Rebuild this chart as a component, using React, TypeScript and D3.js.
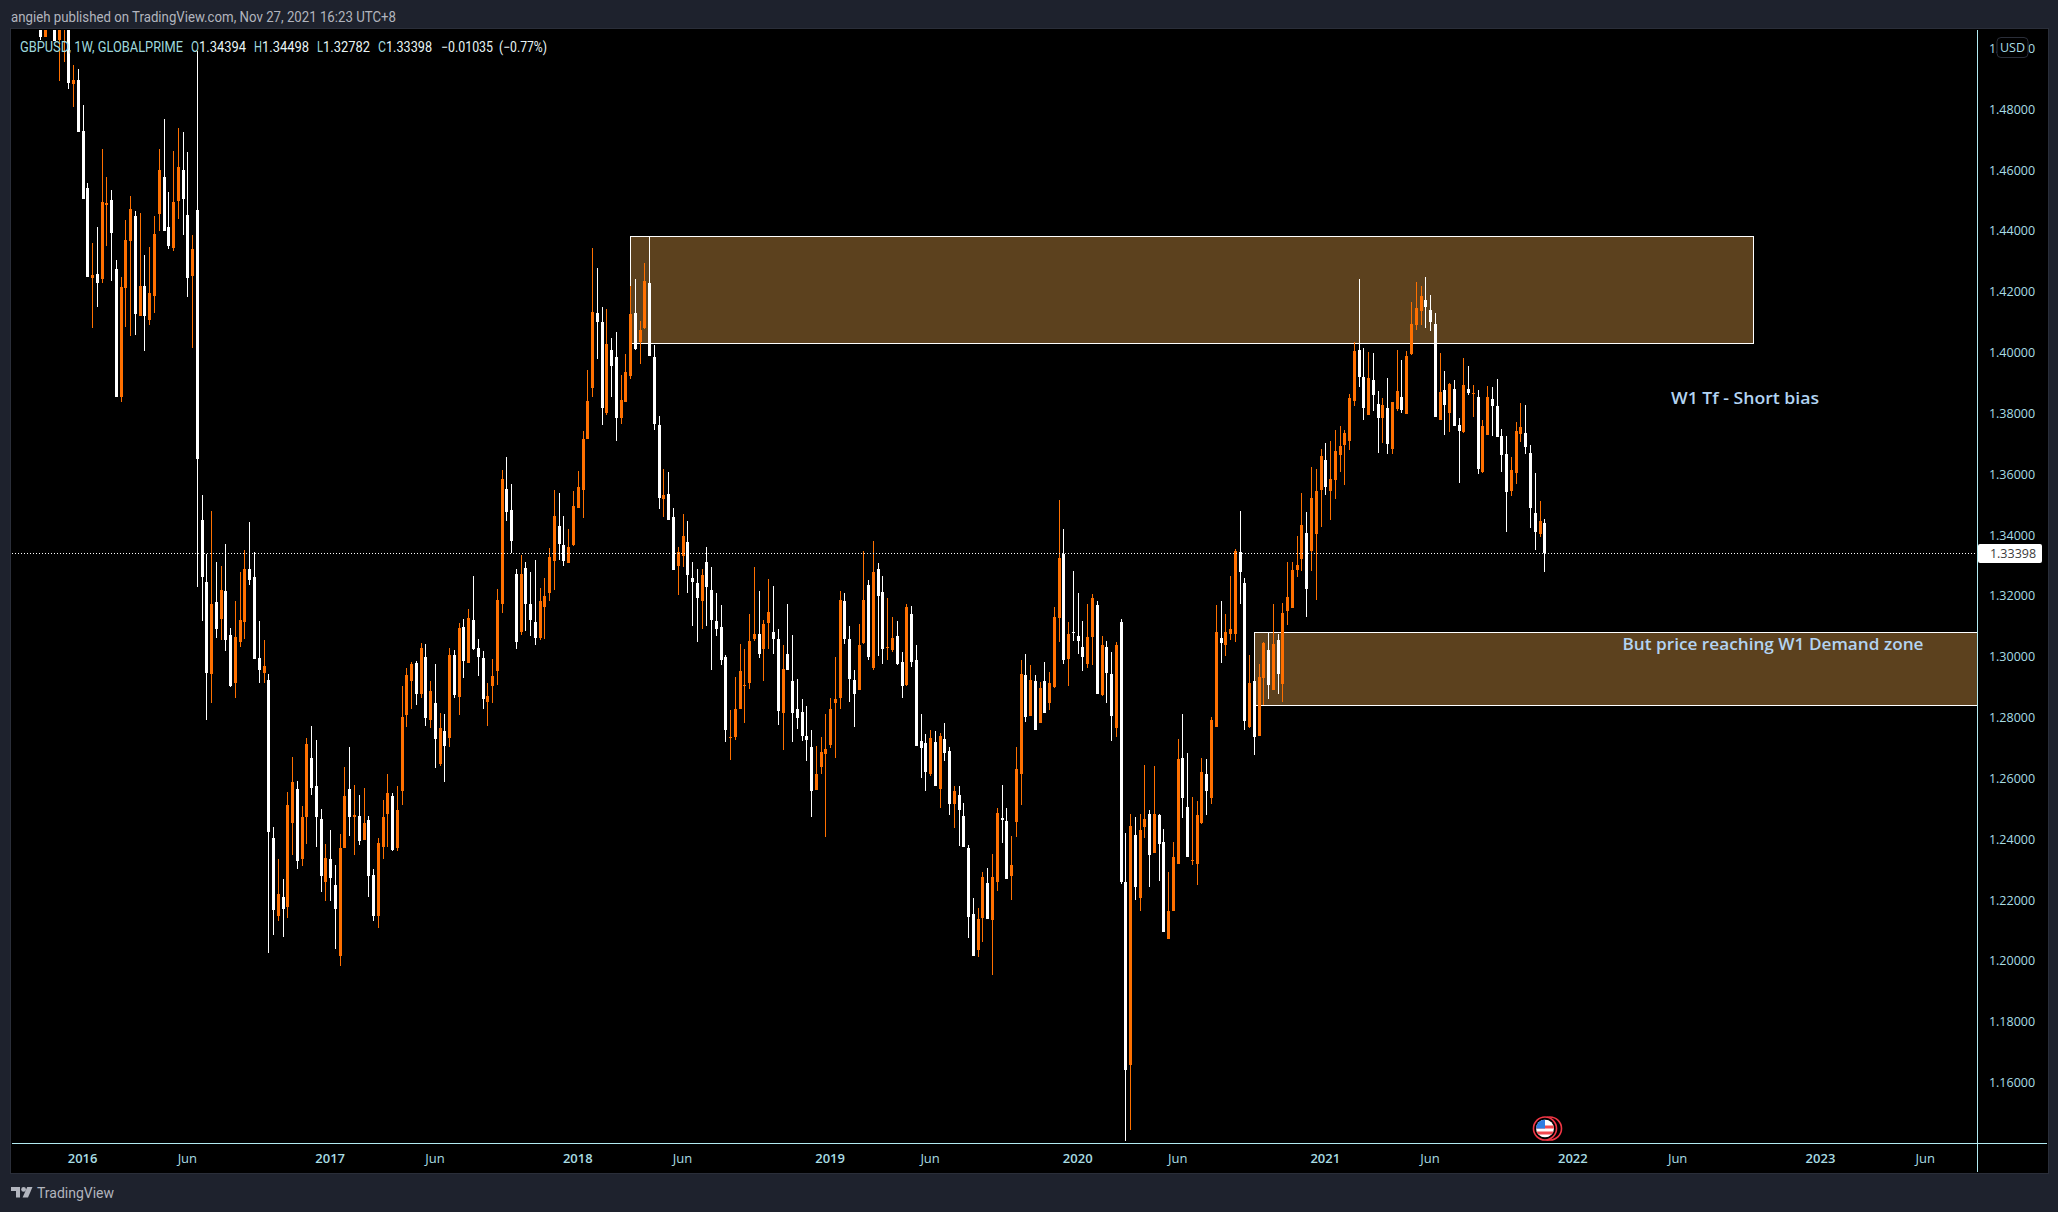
import * as React from 'react';
import * as d3 from 'd3';

const opens = [
  1.5100,1.5037,1.5150,1.5110,1.5026,1.5070,1.5090,1.4882,1.4895,1.4728,
  1.4540,1.4244,1.4258,1.4239,1.4482,1.4501,1.4274,1.3851,1.4209,1.4364,
  1.4448,1.4117,1.4218,1.4104,1.4183,1.4453,1.4576,1.4412,1.4341,1.4495,
  1.4599,1.4452,1.4249,1.4468,1.3449,1.3245,1.2943,1.3179,1.3123,1.3215,
  1.3071,1.2913,1.3048,1.3113,1.3288,1.3261,1.2995,1.2946,1.2923,1.2404,
  1.2147,1.2210,1.2174,1.2453,1.2562,1.2335,1.2470,1.2666,1.2574,1.2466,
  1.2259,1.2332,1.2249,1.2013,1.2368,1.2565,1.2470,1.2476,1.2397,1.2460,
  1.2282,1.2147,1.2374,1.2483,1.2542,1.2371,1.2558,1.2808,1.2920,1.2979,
  1.2877,1.2998,1.2791,1.2847,1.2646,1.2755,1.2732,1.3005,1.2867,1.3097,
  1.2979,1.3120,1.3028,1.2995,1.2851,1.2903,1.2952,1.3173,1.3551,1.3482,
  1.3271,1.3081,1.3291,1.3173,1.3113,1.3061,1.3163,1.3209,1.3314,1.3429,
  1.3367,1.3307,1.3366,1.3488,1.3547,1.3715,1.3883,1.4130,1.4100,1.3801,
  1.4008,1.3985,1.3784,1.3837,1.3922,1.4130,1.4034,1.4080,1.4228,1.3985,
  1.3761,1.3518,1.3534,1.3459,1.3298,1.3328,1.3377,1.3258,1.3241,1.3180,
  1.3310,1.3219,1.3117,1.3097,1.2998,1.2732,1.2735,1.2827,1.2903,1.2913,
  1.3058,1.3074,1.3025,1.3110,1.3080,1.3058,1.2815,1.3008,1.2919,1.2827,
  1.2817,1.2739,1.2703,1.2561,1.2636,1.2679,1.2708,1.2847,1.2864,1.3180,
  1.3058,1.2923,1.2890,1.3044,1.3235,1.2962,1.3288,1.3212,1.3027,1.3019,
  1.3068,1.2982,1.2907,1.3139,1.2988,1.2722,1.2715,1.2613,1.2719,1.2564,
  1.2729,1.2689,1.2515,1.2544,1.2475,1.2371,1.2151,1.2033,1.2140,1.2255,
  1.2134,1.2259,1.2469,1.2459,1.2279,1.2456,1.2613,1.2939,1.2805,1.2919,
  1.2782,1.2919,1.2847,1.2900,1.3127,1.3336,1.2992,1.3080,1.3068,1.3029,
  1.2976,1.3064,1.3169,1.2873,1.3029,1.2943,1.2764,1.3113,1.2259,1.1657,
  1.2413,1.2206,1.2440,1.2482,1.2354,1.2479,1.2390,1.2072,1.2162,1.2318,
  1.2666,1.2505,1.2327,1.2318,1.2451,1.2613,1.2534,1.2769,1.3061,1.3038,
  1.3074,1.3074,1.3344,1.3241,1.2768,1.2919,1.2739,1.2929,1.3021,1.2890,
  1.3054,1.2909,1.3150,1.3160,1.3285,1.3321,1.3406,1.3347,1.3403,1.3548,
  1.3646,1.3544,1.3580,1.3663,1.3696,1.3709,1.3840,1.4008,1.3919,1.3794,
  1.3909,1.3830,1.3784,1.3817,1.3682,1.3814,1.3853,1.3797,1.3994,1.4090,
  1.4136,1.4172,1.4139,1.4093,1.3775,1.3876,1.3801,1.3880,1.3761,1.3737,
  1.3880,1.3863,1.3853,1.3607,1.3728,1.3847,1.3824,1.3725,1.3666,1.3544,
  1.3603,1.3732,1.3735,1.3669,1.3472,1.3403,1.34394,
];

const closes = [
  1.5037,1.5120,1.5110,1.5021,1.5090,1.5120,1.4883,1.4895,1.4722,1.4502,
  1.4246,1.4254,1.4228,1.4494,1.4491,1.4390,1.3851,1.4215,1.4369,1.4471,
  1.4124,1.4218,1.4117,1.4195,1.4389,1.4599,1.4397,1.4350,1.4494,1.4609,
  1.4502,1.4242,1.4340,1.3650,1.3259,1.2946,1.3173,1.3090,1.3219,1.3054,
  1.2903,1.3064,1.3120,1.3288,1.3252,1.2992,1.2956,1.2969,1.2423,1.2167,
  1.2220,1.2170,1.2512,1.2585,1.2328,1.2470,1.2712,1.2568,1.2470,1.2279,
  1.2338,1.2272,1.2170,1.2368,1.2542,1.2473,1.2479,1.2394,1.2453,1.2279,
  1.2147,1.2387,1.2470,1.2549,1.2364,1.2496,1.2801,1.2939,1.2975,1.2877,
  1.3028,1.2798,1.2887,1.2729,1.2765,1.2706,1.3005,1.2874,1.3094,1.2985,
  1.3127,1.3025,1.2998,1.2860,1.2870,1.2936,1.3186,1.3584,1.3475,1.3380,
  1.3048,1.3271,1.3173,1.3120,1.3061,1.3183,1.3199,1.3327,1.3462,1.3370,
  1.3314,1.3360,1.3495,1.3557,1.3715,1.3840,1.4133,1.4100,1.3817,1.4028,
  1.3955,1.3784,1.3844,1.3936,1.4126,1.4011,1.4074,1.4235,1.3988,1.3765,
  1.3521,1.3531,1.3449,1.3285,1.3343,1.3396,1.3268,1.3245,1.3192,1.3268,
  1.3229,1.3120,1.3088,1.2986,1.2758,1.2735,1.2827,1.2952,1.2907,1.3051,
  1.3074,1.3008,1.3107,1.3147,1.3058,1.2821,1.2959,1.2956,1.2815,1.2798,
  1.2738,1.2725,1.2558,1.2613,1.2686,1.2696,1.2827,1.2859,1.3186,1.3058,
  1.2925,1.2876,1.3037,1.3186,1.2998,1.3278,1.3198,1.3025,1.3030,1.3061,
  1.2976,1.2903,1.3163,1.2982,1.2705,1.2699,1.2620,1.2732,1.2574,1.2738,
  1.2683,1.2515,1.2558,1.2493,1.2373,1.2144,1.2016,1.2137,1.2275,1.2137,
  1.2275,1.2485,1.2462,1.2269,1.2314,1.2630,1.2943,1.2801,1.2923,1.2756,
  1.2897,1.2815,1.2913,1.3130,1.3324,1.2988,1.3074,1.3075,1.3051,1.2998,
  1.3064,1.3192,1.2876,1.3037,1.2946,1.2805,1.3037,1.2259,1.1640,1.2443,
  1.2242,1.2429,1.2466,1.2345,1.2482,1.2383,1.2094,1.2161,1.2341,1.2663,
  1.2534,1.2341,1.2331,1.2479,1.2620,1.2558,1.2792,1.3081,1.3045,1.3081,
  1.3088,1.3345,1.3276,1.2787,1.2913,1.2736,1.2933,1.3045,1.2906,1.3041,
  1.2940,1.3143,1.3196,1.3284,1.3301,1.3433,1.3221,1.3521,1.3544,1.3659,
  1.3557,1.3584,1.3676,1.3692,1.3735,1.3850,1.4005,1.3919,1.3817,1.3916,
  1.3860,1.3784,1.3827,1.3699,1.3837,1.3873,1.3811,1.3988,1.4093,1.4146,
  1.4185,1.4149,1.4100,1.3788,1.3870,1.3827,1.3896,1.3758,1.3742,1.3893,
  1.3867,1.3867,1.3617,1.3758,1.3853,1.3824,1.3722,1.3663,1.3541,1.3613,
  1.3742,1.3755,1.3689,1.3488,1.3410,1.3443,1.33398,
];

const highs = [
  1.5120,1.5150,1.5170,1.5130,1.5100,1.5140,1.5110,1.4945,1.4930,1.4813,
  1.4557,1.4359,1.4412,1.4668,1.4576,1.4534,1.4304,1.4248,1.4435,1.4514,
  1.4465,1.4458,1.4320,1.4346,1.4448,1.4668,1.4767,1.4527,1.4662,1.4738,
  1.4724,1.4659,1.4386,1.4991,1.3531,1.3336,1.3478,1.3311,1.3298,1.3370,
  1.3094,1.3183,1.3278,1.3350,1.3442,1.3344,1.3117,1.3054,1.2943,1.2440,
  1.2332,1.2269,1.2555,1.2670,1.2591,1.2509,1.2732,1.2772,1.2726,1.2499,
  1.2384,1.2430,1.2315,1.2414,1.2637,1.2703,1.2578,1.2545,1.2568,1.2476,
  1.2299,1.2401,1.2529,1.2614,1.2552,1.2572,1.2903,1.2962,1.2982,1.2985,
  1.3044,1.3041,1.2920,1.2975,1.2814,1.2811,1.3028,1.3021,1.3110,1.3122,
  1.3156,1.3265,1.3058,1.3018,1.2913,1.2992,1.3222,1.3613,1.3656,1.3567,
  1.3288,1.3334,1.3311,1.3278,1.3317,1.3225,1.3258,1.3357,1.3547,1.3538,
  1.3462,1.3419,1.3544,1.3610,1.3741,1.3942,1.4343,1.4277,1.4149,1.4143,
  1.4047,1.4067,1.3926,1.3995,1.4218,1.4241,1.4103,1.4294,1.4379,1.4024,
  1.3791,1.3616,1.3606,1.3488,1.3359,1.3469,1.3444,1.3310,1.3288,1.3288,
  1.3359,1.3292,1.3208,1.3169,1.3005,1.2824,1.2933,1.3041,1.3025,1.3139,
  1.3294,1.3215,1.3119,1.3255,1.3231,1.3088,1.3037,1.3172,1.3070,1.2925,
  1.2860,1.2837,1.2758,1.2705,1.2735,1.2811,1.2864,1.2998,1.3215,1.3208,
  1.3100,1.2956,1.3105,1.3347,1.3251,1.3380,1.3308,1.3264,1.3192,1.3130,
  1.3117,1.3015,1.3172,1.3166,1.3037,1.2811,1.2746,1.2758,1.2754,1.2747,
  1.2782,1.2701,1.2574,1.2573,1.2518,1.2379,1.2206,1.2172,1.2291,1.2305,
  1.2349,1.2501,1.2576,1.2501,1.2410,1.2703,1.2988,1.3008,1.2972,1.2939,
  1.2915,1.2982,1.2949,1.3163,1.3512,1.3419,1.3113,1.3280,1.3208,1.3117,
  1.3172,1.3206,1.3182,1.3068,1.3051,1.3015,1.3047,1.3123,1.2418,1.2482,
  1.2471,1.2482,1.2644,1.2494,1.2639,1.2480,1.2432,1.2292,1.2390,1.2728,
  1.2811,1.2681,1.2538,1.2525,1.2666,1.2663,1.2801,1.3167,1.3182,1.3140,
  1.3265,1.3353,1.3476,1.3258,1.3005,1.2933,1.2974,1.3048,1.3081,1.3172,
  1.3074,1.3176,1.3310,1.3310,1.3396,1.3538,1.3475,1.3623,1.3617,1.3682,
  1.3702,1.3709,1.3745,1.3758,1.3745,1.3863,1.4034,1.4241,1.4014,1.4001,
  1.3998,1.3873,1.3850,1.3916,1.3837,1.4008,1.3975,1.4004,1.4166,1.4231,
  1.4218,1.4248,1.4189,1.4129,1.3998,1.3939,1.3899,1.3909,1.3784,1.3982,
  1.3955,1.3893,1.3876,1.3778,1.3889,1.3886,1.3912,1.3748,1.3725,1.3656,
  1.3771,1.3834,1.3827,1.3696,1.3604,1.3511,1.34498,
];

const lows = [
  1.5027,1.5037,1.5070,1.5021,1.4892,1.4954,1.4864,1.4804,1.4722,1.4502,
  1.4246,1.4078,1.4147,1.4226,1.4350,1.4232,1.3851,1.3835,1.4081,1.4053,
  1.4055,1.4117,1.4002,1.4088,1.4130,1.4399,1.4397,1.4338,1.4333,1.4439,
  1.4384,1.4180,1.4012,1.3226,1.3117,1.2791,1.2847,1.3061,1.3054,1.3018,
  1.2900,1.2864,1.3031,1.3058,1.3235,1.2992,1.2913,1.2913,1.2026,1.2085,
  1.2131,1.2078,1.2141,1.2348,1.2299,1.2309,1.2384,1.2545,1.2374,1.2226,
  1.2197,1.2197,1.2036,1.1983,1.2368,1.2410,1.2345,1.2381,1.2397,1.2210,
  1.2131,1.2105,1.2332,1.2374,1.2361,1.2361,1.2512,1.2768,1.2828,1.2841,
  1.2864,1.2772,1.2765,1.2634,1.2640,1.2588,1.2703,1.2864,1.2808,1.2929,
  1.2979,1.3021,1.2936,1.2828,1.2772,1.2847,1.2906,1.3143,1.3446,1.3340,
  1.3025,1.3071,1.3084,1.3067,1.3038,1.3054,1.3058,1.3183,1.3219,1.3317,
  1.3298,1.3307,1.3362,1.3488,1.3455,1.3715,1.3853,1.3978,1.3761,1.3794,
  1.3853,1.3709,1.3765,1.3837,1.3913,1.4008,1.3962,1.4077,1.3988,1.3745,
  1.3485,1.3459,1.3449,1.3285,1.3202,1.3292,1.3208,1.3100,1.3047,1.3090,
  1.3100,1.2956,1.3068,1.2972,1.2719,1.2660,1.2725,1.2827,1.2782,1.2893,
  1.3051,1.2995,1.2919,1.3025,1.3008,1.2774,1.2693,1.2956,1.2719,1.2762,
  1.2722,1.2656,1.2473,1.2561,1.2613,1.2407,1.2699,1.2666,1.2827,1.3041,
  1.2850,1.2768,1.2890,1.3041,1.2988,1.2956,1.3002,1.2976,1.2986,1.3015,
  1.2972,1.2864,1.2903,1.2966,1.2705,1.2601,1.2556,1.2607,1.2574,1.2501,
  1.2656,1.2479,1.2436,1.2377,1.2373,1.2075,1.2016,1.2012,1.2061,1.2137,
  1.1953,1.2228,1.2387,1.2269,1.2200,1.2405,1.2512,1.2783,1.2805,1.2756,
  1.2782,1.2815,1.2824,1.2894,1.3047,1.2976,1.2903,1.3051,1.3008,1.2952,
  1.2961,1.2972,1.2876,1.2870,1.2847,1.2722,1.2735,1.2252,1.1408,1.1444,
  1.2199,1.2162,1.2404,1.2242,1.2354,1.2262,1.2094,1.2071,1.2161,1.2318,
  1.2469,1.2341,1.2313,1.2249,1.2447,1.2478,1.2515,1.2769,1.2978,1.3002,
  1.3054,1.3048,1.3172,1.2758,1.2765,1.2674,1.2739,1.2840,1.2861,1.2890,
  1.2876,1.2850,1.3104,1.3160,1.3262,1.3279,1.3129,1.3279,1.3186,1.3426,
  1.3531,1.3449,1.3518,1.3607,1.3564,1.3679,1.3824,1.3886,1.3778,1.3794,
  1.3807,1.3669,1.3702,1.3666,1.3666,1.3807,1.3801,1.3797,1.3991,1.4074,
  1.4090,1.4080,1.4070,1.3788,1.3775,1.3728,1.3738,1.3758,1.3571,1.3735,
  1.3860,1.3788,1.3600,1.3603,1.3728,1.3725,1.3722,1.3607,1.3410,1.3528,
  1.3567,1.3705,1.3666,1.3423,1.3350,1.3393,1.32782,
];

// first weekly bar of the series, one bar per week after it
const firstWeek = new Date(Date.UTC(2015, 10, 2));

const priceTicks = [1.5, 1.48, 1.46, 1.44, 1.42, 1.4, 1.38, 1.36, 1.34, 1.32, 1.3, 1.28, 1.26, 1.24, 1.22, 1.2, 1.18, 1.16];
const timeTickDates = ['2016-01-04', '2016-06-06', '2017-01-02', '2017-06-05', '2018-01-01', '2018-06-04', '2019-01-07', '2019-06-03', '2020-01-06', '2020-06-01', '2021-01-04', '2021-06-07', '2022-01-03', '2022-06-06', '2023-01-02', '2023-06-05'];
const timeTickLabels = ['2016', 'Jun', '2017', 'Jun', '2018', 'Jun', '2019', 'Jun', '2020', 'Jun', '2021', 'Jun', '2022', 'Jun', '2023', 'Jun'];

const supplyZone = { from: '2018-03-19', to: '2022-09-25', top: 1.4381, bottom: 1.4029 };
const demandZone = { from: '2020-09-21', to: '2024-06-03', top: 1.3080, bottom: 1.2840 };
const lastClose = 1.33398;

const W = 2058, H = 1212;
const left = 12, right = 1977, top = 30, bottom = 1143, outerRight = 2047, outerBottom = 1172;

const BG = '#1e222d';
const AXIS = '#b2ebf2';
const AXIS_TEXT = '#a8dde4';
const UP = '#ff7000';
const DOWN = '#ffffff';
const ZONE = '#5c411e';
const UI_FONT = 'Roboto, sans-serif';
const AXIS_FONT = '"Open Sans", sans-serif';

const x = d3.scaleUtc()
  .domain([new Date('2016-01-04'), new Date('2021-11-22')])
  .range([82.6, 1544.3]);
const y = d3.scaleLinear().domain([1.16, 1.48]).range([1082.1, 108.7]);

function Candles() {
  return (
    <g clipPath="url(#plot)" shapeRendering="crispEdges">
      {opens.map((o, i) => {
        const c = closes[i];
        const cx = Math.round(x(d3.utcMonday.offset(firstWeek, i)));
        const color = c >= o ? UP : DOWN;
        const bodyTop = Math.round(y(Math.max(o, c)));
        const bodyBottom = Math.round(y(Math.min(o, c)));
        const wickTop = Math.round(y(highs[i]));
        const wickBottom = Math.round(y(lows[i]));
        return (
          <g key={i} fill={color}>
            <rect x={cx} y={wickTop} width={1} height={wickBottom - wickTop} />
            <rect x={cx - 1} y={bodyTop} width={3} height={Math.max(1, bodyBottom - bodyTop)} />
          </g>
        );
      })}
    </g>
  );
}

function Zone({ zone }: { zone: typeof supplyZone }) {
  const x0 = Math.round(x(new Date(zone.from)));
  const x1 = Math.round(x(new Date(zone.to)));
  const y0 = Math.round(y(zone.top));
  const y1 = Math.round(y(zone.bottom));
  return (
    <rect x={x0 + 0.5} y={y0 + 0.5} width={x1 - x0} height={y1 - y0} fill={ZONE} stroke="#fff" strokeWidth={1} />
  );
}

function UsFlag({ cx, cy }: { cx: number; cy: number }) {
  return (
    <g>
      <circle cx={cx + 5} cy={cy} r={11.5} fill="#000" stroke="#f23645" strokeWidth={1.6} />
      <circle cx={cx} cy={cy} r={11.5} fill="#000" stroke="#f23645" strokeWidth={1.6} />
      <g clipPath="url(#flag)">
        <rect x={cx - 9} y={cy - 9} width={18} height={18} fill="#fff" />
        <rect x={cx - 9} y={cy - 3} width={18} height={3} fill="#f2494f" />
        <rect x={cx - 9} y={cy + 3} width={18} height={3} fill="#f2494f" />
        <rect x={cx - 9} y={cy - 9} width={9} height={9} fill="#2f7de1" />
      </g>
    </g>
  );
}

function Legend() {
  const label = '#9fd9de';
  const value = '#e8f4f5';
  const parts: [string, number, number, string][] = [
    ['GBPUSD, 1W, GLOBALPRIME', 20, 163, label],
    ['O', 191, 8, label],
    ['1.34394', 199, 47, value],
    ['H', 254, 8, label],
    ['1.34498', 262, 47, value],
    ['L', 317, 6, label],
    ['1.32782', 323, 47, value],
    ['C', 378, 8, label],
    ['1.33398', 386, 46, value],
    ['\u22120.01035', 441, 52, value],
    ['(\u22120.77%)', 499, 48, value],
  ];
  return (
    <g fontFamily={UI_FONT} fontSize={14}>
      {parts.map(([t, px, len, fill]) => (
        <text key={t} x={px} y={51.5} fill={fill} textLength={len} lengthAdjust="spacingAndGlyphs">{t}</text>
      ))}
    </g>
  );
}

export default function App() {
  const lastY = Math.round(y(lastClose));
  return (
    <svg width={W} height={H} style={{ position: 'absolute', left: 0, top: 0, display: 'block' }}>
      <defs>
        <clipPath id="plot"><rect x={left} y={top} width={right - left} height={bottom - top} /></clipPath>
        <clipPath id="flag"><circle cx={1545} cy={1128.5} r={9} /></clipPath>
      </defs>
      <rect width={W} height={H} fill={BG} />
      <text x={11} y={21.5} fontFamily={UI_FONT} fontSize={14.5} fill="#b2b5be" textLength={385} lengthAdjust="spacingAndGlyphs">
        angieh published on TradingView.com, Nov 27, 2021 16:23 UTC+8
      </text>

      <rect x={left - 1.5} y={top - 1.5} width={outerRight - left + 3} height={outerBottom - top + 3} fill="#000" stroke="#2a2e39" strokeWidth={1} />

      <g clipPath="url(#plot)">
        <Zone zone={supplyZone} />
        <Zone zone={demandZone} />
      </g>
      <Candles />

      <line x1={left} x2={right} y1={lastY + 0.5} y2={lastY + 0.5} stroke="#fff" strokeWidth={1} strokeDasharray="1 2" />

      <text x={1745} y={403.5} textAnchor="middle" fontFamily={AXIS_FONT} fontWeight={600} fontSize={17} fill="#b3d4f2" textLength={148} lengthAdjust="spacingAndGlyphs">W1 Tf - Short bias</text>
      <text x={1773} y={650} textAnchor="middle" fontFamily={AXIS_FONT} fontWeight={600} fontSize={17} fill="#b3d4f2" textLength={301} lengthAdjust="spacingAndGlyphs">But price reaching W1 Demand zone</text>

      <Legend />

      <UsFlag cx={1545} cy={1128.5} />

      <line x1={right + 0.5} x2={right + 0.5} y1={top} y2={outerBottom} stroke={AXIS} strokeWidth={1} />
      <line x1={left} x2={outerRight} y1={bottom + 0.5} y2={bottom + 0.5} stroke={AXIS} strokeWidth={1} />

      <g fontFamily={AXIS_FONT} fontSize={12.5} fill={AXIS_TEXT} textAnchor="middle">
        {priceTicks.map((p) => (
          <text key={p} x={2012} y={y(p) + 5}>{d3.format('.5f')(p)}</text>
        ))}
      </g>
      <rect x={1997} y={37.5} width={31} height={20} rx={4} fill="#000" stroke="#2a2e39" />
      <text x={2012.5} y={52} textAnchor="middle" fontFamily={AXIS_FONT} fontSize={12.5} fill={AXIS_TEXT}>USD</text>

      <rect x={1978} y={lastY - 9} width={64} height={19} rx={2} fill="#fff" />
      <text x={2013} y={lastY + 5} textAnchor="middle" fontFamily={AXIS_FONT} fontSize={12.5} fill="#3c3c3c">{d3.format('.5f')(lastClose)}</text>

      <g fontFamily={AXIS_FONT} fontSize={13} fill={AXIS_TEXT} textAnchor="middle">
        {timeTickDates.map((d, i) => (
          <text key={d} x={x(new Date(d))} y={1163} fontWeight={timeTickLabels[i] === 'Jun' ? 'normal' : 600}>{timeTickLabels[i]}</text>
        ))}
      </g>

      <g fill="#b2b5be">
        <path d="M11 1187h9v10.5h-4v-6.5h-5z" />
        <circle cx={23.6} cy={1189.4} r={2.4} />
        <path d="M27.2 1187h5.3l-4.5 10.5h-5.4z" />
      </g>
      <text x={37} y={1198} fontFamily={UI_FONT} fontSize={14.5} fill="#b2b5be" textLength={77} lengthAdjust="spacingAndGlyphs">TradingView</text>
    </svg>
  );
}
